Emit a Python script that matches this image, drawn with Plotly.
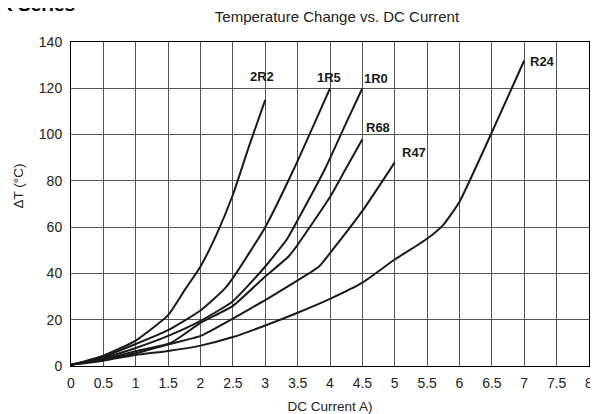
import plotly.graph_objects as go

# DC current (A) / temperature rise (degC)
names = ['2R2', '1R5', '1R0', 'R68', 'R47', 'R24']

x_2r2 = [0, 0.5, 1, 1.5, 1.76, 2, 2.25, 2.5, 2.75, 3]
y_2r2 = [0.5, 4.5, 11, 22, 33, 43, 57, 74, 95, 115]

x_1r5 = [0, 0.5, 1, 1.5, 2, 2.36, 2.5, 3, 3.44, 4]
y_1r5 = [0.5, 4, 9.5, 15.5, 24, 33, 38, 60, 85, 120]

x_1r0 = [0, 0.5, 1, 1.5, 2, 2.5, 3, 3.34, 3.5, 3.92, 4.2, 4.5]
y_1r0 = [0.5, 3.5, 7.8, 13, 19.5, 28, 43, 55, 63, 85, 102, 120]

x_r68 = [0, 0.5, 1, 1.54, 2, 2.5, 3, 3.36, 3.5, 4, 4.24, 4.5]
y_r68 = [0.5, 3, 6.4, 10, 18.6, 26, 38.7, 47.3, 52.4, 73, 85, 98]

x_r47 = [0, 0.5, 1, 1.5, 2, 2.5, 3, 3.5, 3.83, 4, 4.5, 5]
y_r47 = [0.5, 2.8, 5.5, 9.3, 13, 20.5, 28.5, 37, 43, 48.8, 67, 88]

x_r24 = [0, 0.5, 1, 1.5, 2, 2.5, 3, 3.5, 4, 4.5, 5, 5.5, 5.75, 6, 6.5, 7]
y_r24 = [0.5, 2.3, 4.8, 6.5, 8.8, 12.5, 17.5, 23, 29, 36, 46, 55, 61, 71, 101, 132]

xs = [x_2r2, x_1r5, x_1r0, x_r68, x_r47, x_r24]
ys = [y_2r2, y_1r5, y_1r0, y_r68, y_r47, y_r24]

# pixel offset of each label from the end of its curve
label_shift = [(-3, 23), (-1, 11), (14, 10), (16, 12), (19, 10), (18, -1)]

fig = go.Figure()
for name, x, y in zip(names, xs, ys):
    fig.add_trace(go.Scatter(x=x, y=y, mode='lines', name=name,
                             line=dict(color='#1a1a1a', width=2, shape='spline', smoothing=0.5)))

for name, x, y, (dx, dy) in zip(names, xs, ys, label_shift):
    fig.add_annotation(x=x[-1], y=y[-1], text='<b>' + name + '</b>', showarrow=False,
                       xshift=dx, yshift=dy, xanchor='center', yanchor='middle',
                       font=dict(size=13, color='#1a1a1a'))

# clipped series heading at the very top
fig.add_annotation(xref='paper', yref='paper', x=0.0115, y=1.116, text='<b>R Series</b>',
                   showarrow=False, xanchor='right', yanchor='middle',
                   font=dict(size=19, color='black'))

# y axis title placed by hand (sits above centre in the original)
fig.add_annotation(xref='paper', yref='paper', x=-0.101, y=0.556, text='\u0394T (\u00b0C)',
                   showarrow=False, textangle=-90, xanchor='center', yanchor='middle',
                   font=dict(size=13.5, color='#222'))

# the page puts an 8px margin round the plot, so the figure is sized to the rest
fig.update_layout(
    width=590, height=406,
    margin=dict(l=63, r=9, t=34, b=47.5, autoexpand=False),
    paper_bgcolor='white', plot_bgcolor='white',
    showlegend=False,
    font=dict(family='Liberation Sans, Arial', size=14, color='#222'),
    title=dict(text='Temperature Change vs. DC Current', x=0.5576, xanchor='center',
               y=0.978, yanchor='middle', font=dict(size=15, color='#222')),
    xaxis=dict(range=[0, 8], dtick=0.5, showgrid=True, gridcolor='#555', gridwidth=1,
               showline=True, linecolor='black', linewidth=1, mirror=True, automargin=False,
               zeroline=False, ticks='', ticklabelstandoff=4,
               title=dict(text='DC Current A)', standoff=14, font=dict(size=13.5))),
    yaxis=dict(range=[0, 140], dtick=20, showgrid=True, gridcolor='#555', gridwidth=1,
               showline=True, linecolor='black', linewidth=1, mirror=True, automargin=False,
               zeroline=False, ticks='', ticklabelstandoff=5),
)

fig.write_html("out.html")
